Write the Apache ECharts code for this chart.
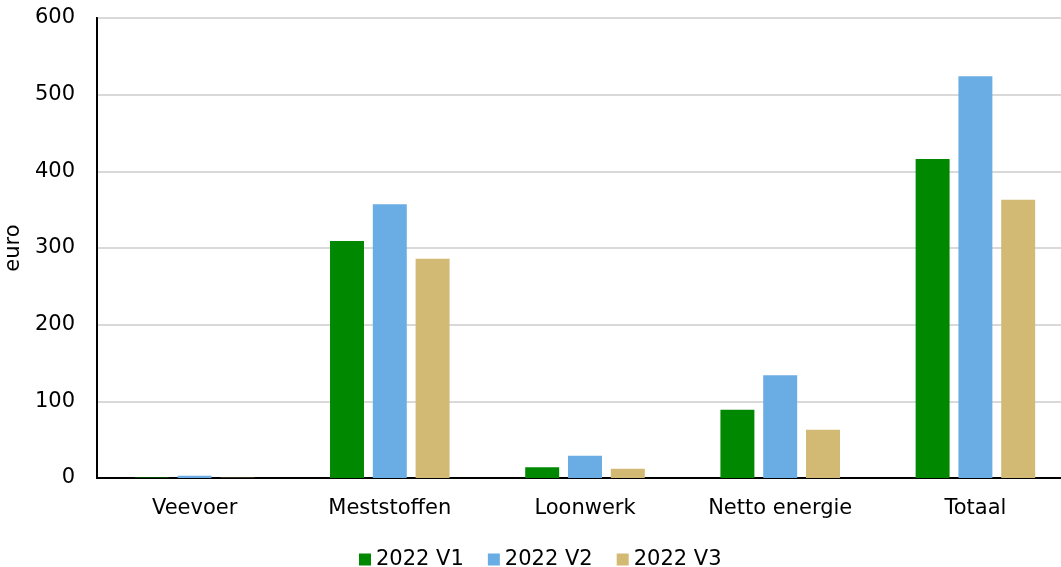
<!DOCTYPE html>
<html><head><meta charset="utf-8">
<script src="https://cdn.jsdelivr.net/npm/echarts@6/dist/echarts.min.js"></script>
<style>html,body{margin:0;padding:0;background:#fff}#c{width:1061px;height:567px}</style>
</head><body><div id="c"></div>
<script>
const categories = ['Veevoer', 'Meststoffen', 'Loonwerk', 'Netto energie', 'Totaal'];
const v1 = [0.5, 309, 14, 89, 416];
const v2 = [3, 357, 29, 134, 524];
const v3 = [0.3, 286, 12, 63, 363];
const seriesNames = ['2022 V1', '2022 V2', '2022 V3'];
const colors = ['#008800', '#6aade4', '#d2b974'];
const font = 'DejaVu Sans, Verdana, sans-serif';
const chart = echarts.init(document.getElementById('c'));
chart.setOption({
  animation: false,
  grid: {left: 97, right: -12, top: 18, bottom: 89, show: true, borderColor: '#000', borderWidth: 2,
    backgroundColor: 'transparent', containLabel: false, outerBoundsMode: 'none'},
  legend: {top: 544, left: 354, itemWidth: 12, itemHeight: 12, itemGap: 24,
    textStyle: {fontFamily: font, fontSize: 21, color: '#000'},
    data: seriesNames.map(n => ({name: n, icon: 'rect'}))},
  xAxis: {type: 'category', data: categories,
    axisLine: {lineStyle: {color: '#000', width: 2}}, axisTick: {show: false},
    axisLabel: {fontFamily: font, fontSize: 21, color: '#000', margin: 20}},
  yAxis: {type: 'value', min: 0, max: 600, interval: 100, name: 'euro', nameLocation: 'middle', nameGap: 69,
    nameTextStyle: {fontFamily: font, fontSize: 21, color: '#000'},
    axisLine: {show: true, lineStyle: {color: '#000', width: 2}}, axisTick: {show: false},
    axisLabel: {fontFamily: font, fontSize: 21, color: '#000', margin: 22, padding: [4, 0, 0, 0]},
    splitLine: {lineStyle: {color: '#d9d9d9', width: 2}}},
  series: [v1, v2, v3].map((d, i) => ({
    name: seriesNames[i], type: 'bar', data: d, barWidth: '17.4%', barGap: '26%',
    itemStyle: {color: colors[i]}
  }))
});
</script></body></html>
